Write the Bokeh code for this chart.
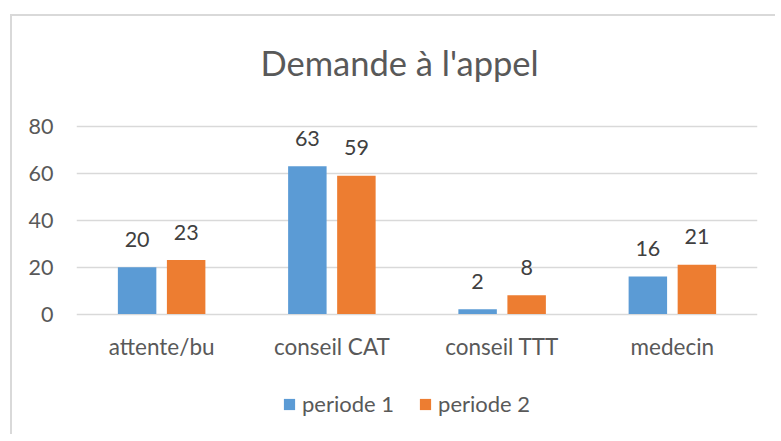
from bokeh.plotting import figure
from bokeh.models import ColumnDataSource, Legend, LegendItem, FactorRange, Range1d
from bokeh.transform import dodge
from bokeh.core.properties import value
from bokeh.embed import file_html
from bokeh.resources import INLINE

categories = ["attente/bu", "conseil CAT", "conseil TTT", "medecin"]
periode_1 = [20, 63, 2, 16]
periode_2 = [23, 59, 8, 21]
series_names = ["periode 1", "periode 2"]
y_ticks = [0, 20, 40, 60, 80]
title_text = "Demande à l'appel"

FONT = "Lato"
TEXT = "#595959"
LABEL = "#404040"
BLUE = "#5B9BD5"
ORANGE = "#ED7D31"
GRID = "#D9D9D9"

# layout (pixels): value axis spans 187.5 px for 0..80; the frame also
# holds the space above 80 and the legend area below 0
Y_MAX_TICK = y_ticks[-1]
PX_PER_UNIT = 187.5 / Y_MAX_TICK
FRAME_ABOVE_TOP_TICK = 26.0   # px between frame top and the top tick line
FRAME_BELOW_ZERO = 122.5      # px between zero line and frame bottom
y_lo = -FRAME_BELOW_ZERO / PX_PER_UNIT
y_hi = Y_MAX_TICK + FRAME_ABOVE_TOP_TICK / PX_PER_UNIT

src = ColumnDataSource(dict(
    cat=categories, p1=periode_1, p2=periode_2,
    l1=[str(v) for v in periode_1], l2=[str(v) for v in periode_2]))

p = figure(x_range=FactorRange(*categories, range_padding=0),
           y_range=Range1d(y_lo, y_hi), x_axis_location=None,
           width=765, height=420, output_backend="svg", toolbar_location=None,
           min_border_left=64, min_border_right=20, min_border_top=84,
           min_border_bottom=0)
p.margin = (14, 0, 0, 10)
p.styles = {"border-left": "2px solid #D9D9D9", "border-top": "2px solid #D9D9D9"}
p.outline_line_color = None

p.title.text = title_text
p.title.align = "left"
p.title.offset = 184
p.title.text_font = FONT
p.title.text_font_size = "34.5px"
p.title.text_font_style = "normal"
p.title.text_color = TEXT
p.title.text_line_height = 1.0
p.title.standoff = 36

off = 0.144
w = 0.226
r1 = p.vbar(x=dodge("cat", -off, range=p.x_range), top="p1", width=w, source=src,
            fill_color=BLUE, line_color=None)
r2 = p.vbar(x=dodge("cat", off, range=p.x_range), top="p2", width=w, source=src,
            fill_color=ORANGE, line_color=None)
for col, lab, d in (("p1", "l1", -off), ("p2", "l2", off)):
    p.text(x=dodge("cat", d, range=p.x_range), y=col, text=lab, source=src,
           text_align="center", text_baseline="middle", y_offset=-28,
           text_font=value(FONT), text_font_size="21.5px", text_color=LABEL)

# category labels under the zero line
p.text(x="cat", y=0, text="cat", source=src, text_align="center",
       text_baseline="middle", y_offset=32, text_font=value(FONT),
       text_font_size="22.5px", text_color=TEXT)

p.xgrid.visible = False
p.ygrid.ticker = y_ticks
p.ygrid.grid_line_color = GRID
p.ygrid.grid_line_width = 1.5

p.yaxis.ticker = y_ticks
p.yaxis.axis_line_color = None
p.yaxis.major_tick_line_color = None
p.yaxis.minor_tick_line_color = None
p.yaxis.major_tick_out = 0
p.yaxis.major_label_standoff = 23
p.yaxis.major_label_text_font = FONT
p.yaxis.major_label_text_font_size = "21.5px"
p.yaxis.major_label_text_color = TEXT

legend = Legend(items=[LegendItem(label=series_names[0], renderers=[r1]),
                       LegendItem(label=series_names[1], renderers=[r2])],
                orientation="horizontal", location=(206, 19),
                border_line_color=None, background_fill_alpha=0,
                label_text_font=FONT, label_text_font_size="22px",
                label_text_color=TEXT, glyph_width=14, glyph_height=14,
                label_standoff=6, spacing=24, padding=0, margin=0)
p.add_layout(legend, "center")

open("out.html", "w").write(file_html(p, INLINE))
